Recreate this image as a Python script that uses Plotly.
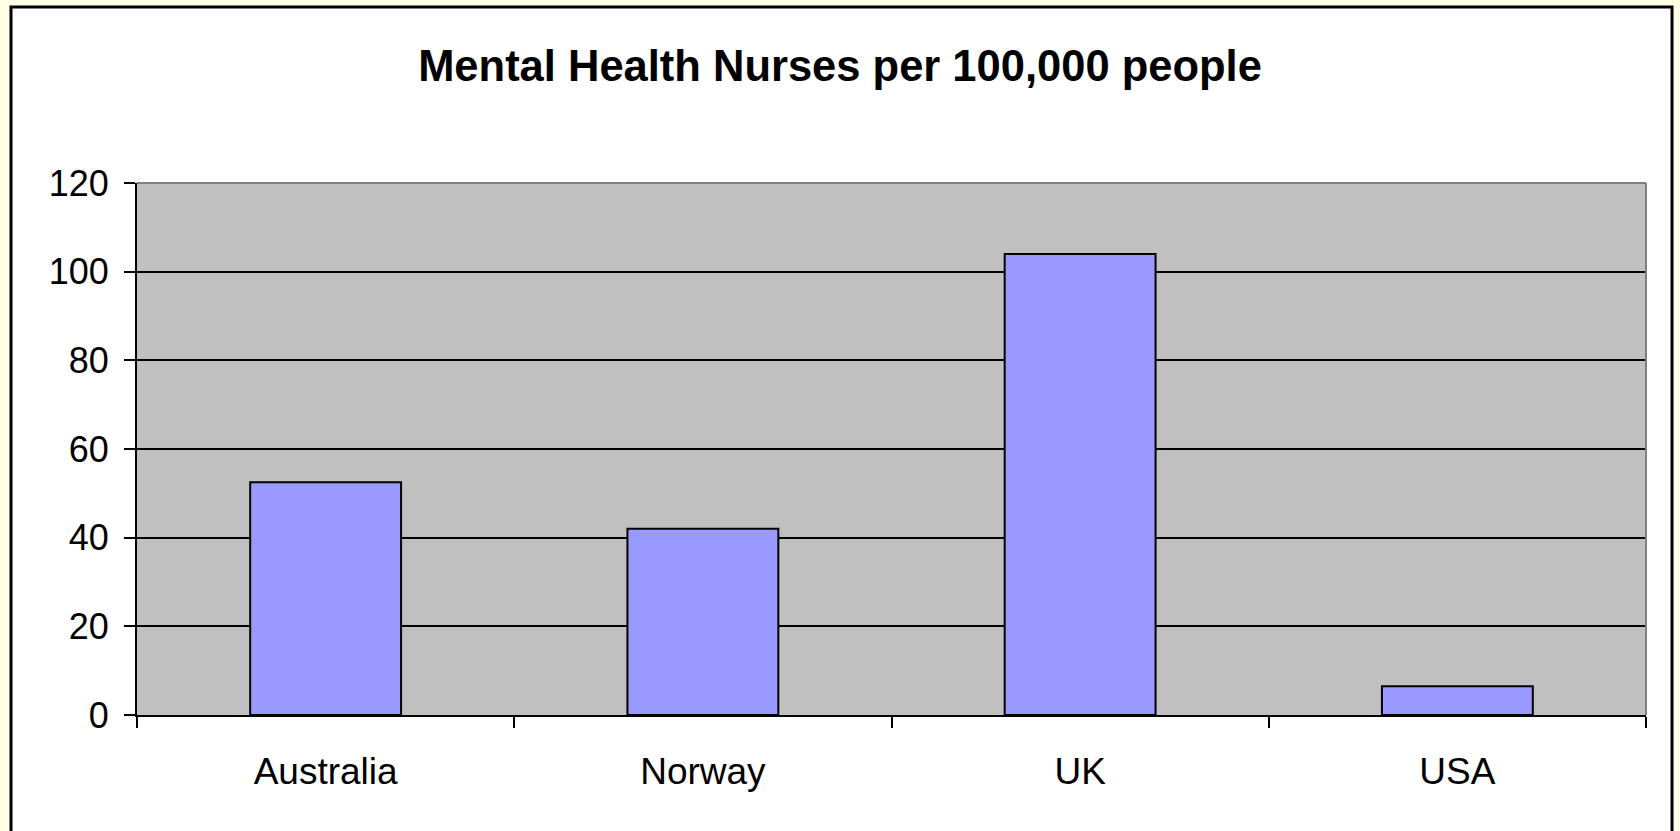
import plotly.graph_objects as go

countries = ["Australia", "Norway", "UK", "USA"]
nurses = [52.5, 42, 104, 6.5]
y_ticks = [0, 20, 40, 60, 80, 100, 120]

W, H = 1680, 831
L, R, T, B = 137, 34, 183, 116
pw, ph = W - L - R, H - T - B

def px_x(p):
    return (p - L) / pw

def px_y(p):
    return (H - B - p) / ph

fig = go.Figure()
fig.add_trace(go.Bar(
    x=countries, y=nurses,
    marker=dict(color="#9999FF", line=dict(color="black", width=2)),
    hoverinfo="skip",
))

fig.update_layout(
    width=W, height=H,
    margin=dict(l=L, r=R, t=T, b=B, pad=0),
    paper_bgcolor="#FFFFE6",
    plot_bgcolor="#C0C0C0",
    bargap=0.6,
    showlegend=False,
    font=dict(family="Liberation Sans, Arial, sans-serif", size=36, color="black"),
    title=dict(
        text="<b>Mental Health Nurses per 100,000 people</b>",
        x=0.5, xref="container", xanchor="center",
        y=1 - 66 / H, yref="container", yanchor="middle",
        font=dict(size=43.5, family="Liberation Sans, Arial, sans-serif", color="black"),
    ),
    xaxis=dict(
        type="category",
        showgrid=False,
        showline=True, linecolor="black", linewidth=2,
        ticks="outside", tickson="boundaries", ticklen=11, tickwidth=2, tickcolor="black",
        tickfont=dict(size=37),
        ticklabelstandoff=23,
        fixedrange=True,
    ),
    yaxis=dict(
        range=[0, 120],
        tickvals=y_ticks,
        showgrid=True, gridcolor="black", gridwidth=2,
        zeroline=False,
        showline=True, linecolor="black", linewidth=2,
        ticks="outside", ticklen=11, tickwidth=2, tickcolor="black",
        tickfont=dict(size=36),
        ticklabelstandoff=8,
        fixedrange=True,
    ),
    shapes=[
        dict(type="rect", xref="paper", yref="paper",
             x0=px_x(11), x1=px_x(1672), y0=px_y(7), y1=px_y(845),
             fillcolor="white", line=dict(color="black", width=3), layer="below"),
        dict(type="rect", xref="paper", yref="paper",
             x0=0, x1=1, y0=0, y1=1,
             fillcolor="#C0C0C0", line=dict(width=0), layer="below"),
        dict(type="line", xref="paper", yref="paper",
             x0=0, x1=1, y0=1, y1=1, line=dict(color="#808080", width=2), layer="above"),
        dict(type="line", xref="paper", yref="paper",
             x0=1, x1=1, y0=0, y1=1, line=dict(color="#808080", width=2), layer="above"),
    ],
)

fig.write_html("out.html")
